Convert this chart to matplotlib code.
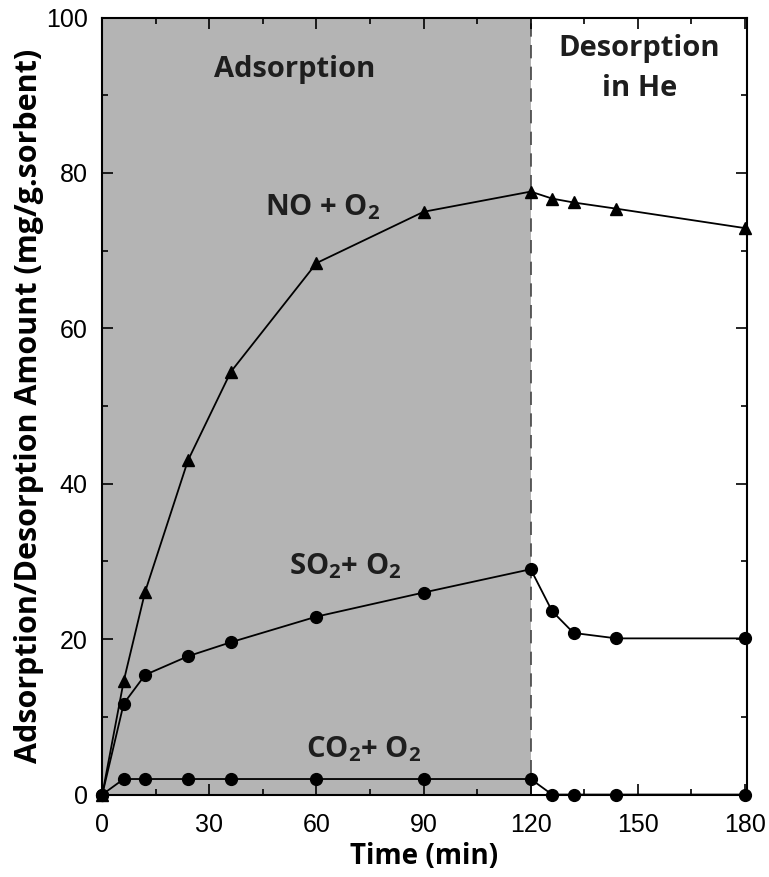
import matplotlib
matplotlib.use("Agg")
import matplotlib.pyplot as plt
from matplotlib.ticker import MultipleLocator

# data
t_no = [0, 6, 12, 24, 36, 60, 90, 120, 126, 132, 144, 180]
no_o2 = [0, 14.6, 26.1, 43.0, 54.4, 68.4, 75.0, 77.6, 76.7, 76.2, 75.4, 72.9]

t_so2 = [0, 6, 12, 24, 36, 60, 90, 120, 126, 132, 144, 180]
so2_o2 = [0, 11.7, 15.4, 17.8, 19.6, 22.9, 26.0, 29.0, 23.6, 20.8, 20.1, 20.1]

t_co2 = [0, 6, 12, 24, 36, 60, 90, 120, 126, 132, 144, 180]
co2_o2 = [0, 2.0, 2.0, 2.0, 2.0, 2.0, 2.0, 2.0, 0, 0, 0, 0]

switch_time = 120

plt.rcParams['mathtext.fontset'] = 'custom'
plt.rcParams['mathtext.rm'] = 'Open Sans:bold'
plt.rcParams['mathtext.bf'] = 'Open Sans:bold'

fig = plt.figure(figsize=(7.69, 8.77), dpi=100)
ax = fig.add_axes([0.133, 0.094, 0.838, 0.886])

# shaded adsorption window
ax.axvspan(0, switch_time, color='#b4b4b4', zorder=0, lw=0)
ax.axvline(switch_time, color='#444444', lw=1.2, ls=(0, (8, 5)), zorder=1)

ax.plot(t_no, no_o2, color='black', lw=1.3, marker='^', ms=9, zorder=3, clip_on=False)
ax.plot(t_so2, so2_o2, color='black', lw=1.3, marker='o', ms=8.5, zorder=3, clip_on=False)
ax.plot(t_co2, co2_o2, color='black', lw=1.3, marker='o', ms=8.5, zorder=3, clip_on=False)

lab_font = dict(family='Open Sans', fontweight='bold', color='#1e1e1e', fontsize=21,
                ha='center', va='baseline')
ax.text(53.8, 92.3, 'Adsorption', **lab_font)
ax.text(150.5, 95.0, 'Desorption', **lab_font)
ax.text(150.5, 89.9, 'in He', **lab_font)
ax.text(61.7, 74.6, r'NO + O$_2$', **lab_font)
ax.text(68.2, 28.3, r'SO$_2$+ O$_2$', **lab_font)
ax.text(73.2, 4.8, r'CO$_2$+ O$_2$', **lab_font)

ax.set_xlim(0, 180.5)
ax.set_ylim(0, 100)
ax.xaxis.set_major_locator(MultipleLocator(30))
ax.xaxis.set_minor_locator(MultipleLocator(15))
ax.yaxis.set_major_locator(MultipleLocator(20))
ax.yaxis.set_minor_locator(MultipleLocator(10))
ax.tick_params(which='both', direction='in', top=True, right=True, width=1.2)
ax.tick_params(which='major', length=8, labelsize=18)
ax.tick_params(which='minor', length=4)
ax.tick_params(axis='x', which='major', pad=13)
ax.tick_params(axis='y', which='major', pad=10.5)
for lbl in ax.get_xticklabels() + ax.get_yticklabels():
    lbl.set_family('Liberation Sans')
for s in ax.spines.values():
    s.set_linewidth(1.5)

ax.set_xlabel('Time (min)', family='Open Sans', fontweight='bold', fontsize=20, labelpad=4)
ax.set_ylabel('Adsorption/Desorption Amount (mg/g.sorbent)', family='Open Sans',
              fontweight='bold', fontsize=22, labelpad=1)

fig.savefig('out.png', dpi=100)
